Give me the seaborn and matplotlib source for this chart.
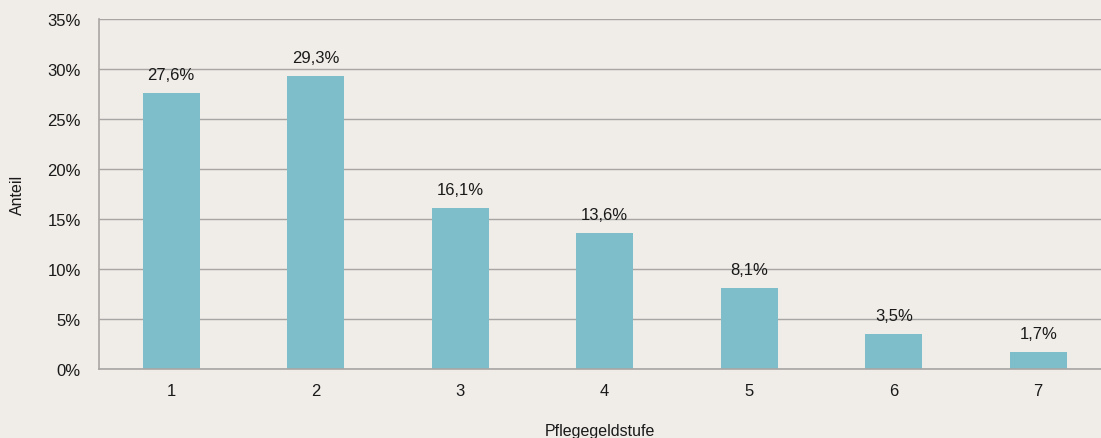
import matplotlib
matplotlib.use("Agg")
import matplotlib.pyplot as plt
import seaborn as sns
import pandas as pd
from matplotlib import font_manager

categories = ["1", "2", "3", "4", "5", "6", "7"]
values = [27.6, 29.3, 16.1, 13.6, 8.1, 3.5, 1.7]
value_labels = ["27,6%", "29,3%", "16,1%", "13,6%", "8,1%", "3,5%", "1,7%"]
y_ticks = [0, 5, 10, 15, 20, 25, 30, 35]
y_tick_labels = ["0%", "5%", "10%", "15%", "20%", "25%", "30%", "35%"]

bg = "#F0ECE8"
bar_color = "#7EBECA"
grid_color = "#A8A6A4"

sns.set_theme(style="white")
names = {f.name for f in font_manager.fontManager.ttflist}
fam = "Liberation Sans Narrow" if "Liberation Sans Narrow" in names else "Liberation Sans"
plt.rcParams["font.family"] = [fam, "DejaVu Sans"]

df = pd.DataFrame({"Pflegegeldstufe": categories, "Anteil": values})

fig = plt.figure(figsize=(11.01, 4.39), dpi=100, facecolor=bg)
ax = fig.add_axes([99 / 1101, 1 - 370 / 439, 1002 / 1101, 350 / 439])
ax.set_facecolor(bg)

sns.barplot(data=df, x="Pflegegeldstufe", y="Anteil", color=bar_color,
            width=0.395, saturation=1, linewidth=0, edgecolor="none",
            ax=ax, zorder=3)

ax.set_ylim(0, 35)
ax.set_xlim(-0.5, -0.5 + 1002 / 144.5)
ax.set_yticks(y_ticks)
ax.set_yticklabels(y_tick_labels)
ax.yaxis.grid(True, color=grid_color, linewidth=1.0, zorder=0)
ax.set_axisbelow(True)
for s in ["top", "right"]:
    ax.spines[s].set_visible(False)
for s in ["left", "bottom"]:
    ax.spines[s].set_color(grid_color)
    ax.spines[s].set_linewidth(1.2)
ax.spines["bottom"].set_zorder(4)
ax.tick_params(axis="both", length=0, labelsize=12, colors="#1a1a1a")
ax.tick_params(axis="y", pad=13)
ax.tick_params(axis="x", pad=10)

ax.set_ylabel("Anteil", fontsize=11.5, color="#1a1a1a", labelpad=16)
ax.set_xlabel("Pflegegeldstufe", fontsize=11.5, color="#1a1a1a", labelpad=18)

for i, (v, lab) in enumerate(zip(values, value_labels)):
    ax.annotate(lab, (i, v), xytext=(0, 8), textcoords="offset points",
                ha="center", va="bottom", fontsize=12, color="#1a1a1a")

fig.savefig("out.png", dpi=100, facecolor=bg)
